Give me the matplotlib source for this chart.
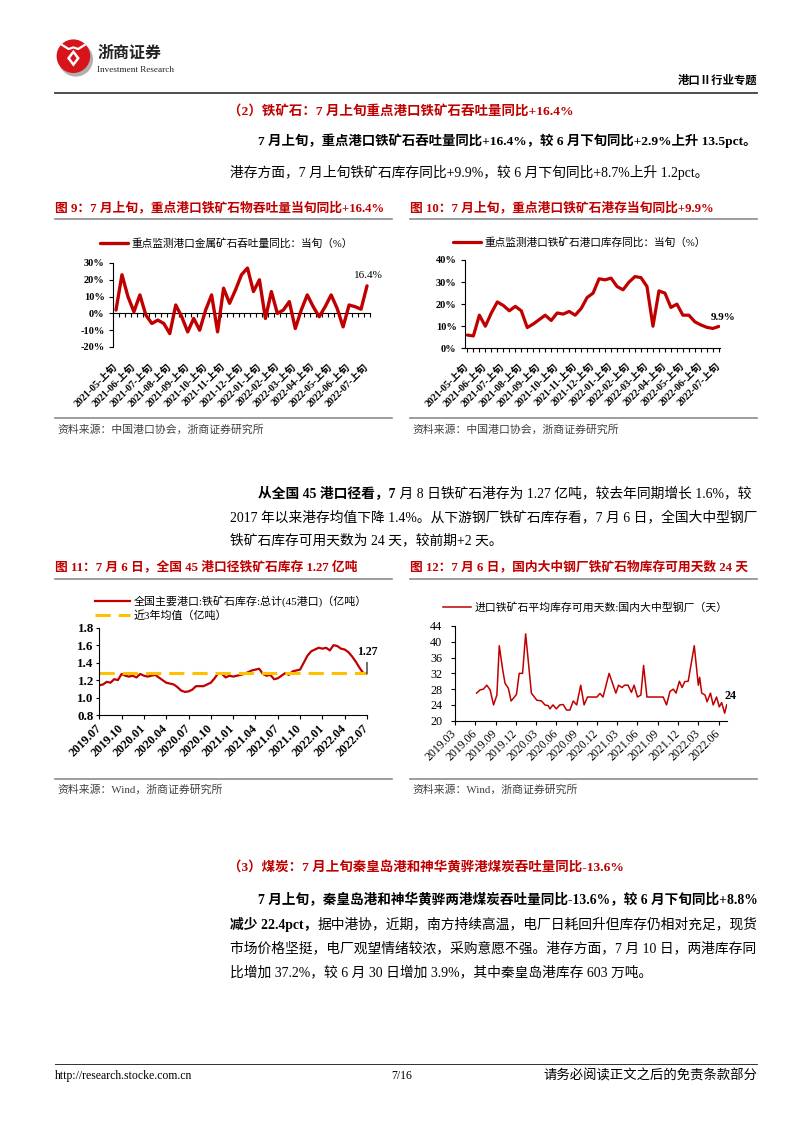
import numpy as np
import matplotlib
matplotlib.use('Agg')
import matplotlib.pyplot as plt
from matplotlib.lines import Line2D
from matplotlib.patches import Circle, Polygon, Ellipse
from matplotlib.ticker import NullFormatter

# ---------------- data ----------------
# Fig 9: iron ore throughput YoY by dekad (%), 2021-05 上旬 .. 2022-07 上旬
tp_yoy = [2, 23, 10, 1, 11, -1, -6, -4, -6, -12,
          5, -2, -11, -3, -10, 2, 11, -11, 15, 6,
          14, 23, 27, 13, 20, -3, 13, 0, 2, 7,
          -9, 2, 11, 4, -2, 4, 11, 3, -8, 5,
          4, 2.5, 16.4]
dekad_labels = ['2021-05-上旬', '2021-06-上旬', '2021-07-上旬', '2021-08-上旬', '2021-09-上旬',
                '2021-10-上旬', '2021-11-上旬', '2021-12-上旬', '2022-01-上旬', '2022-02-上旬',
                '2022-03-上旬', '2022-04-上旬', '2022-05-上旬', '2022-06-上旬', '2022-07-上旬']

# Fig 10: iron ore port inventory YoY by dekad (%)
inv_yoy = [6, 5.6, 15, 10, 16, 21, 19.4, 17, 19, 17,
           9.4, 11, 13, 15, 12.6, 16, 15.5, 16.7, 15, 18,
           23, 25, 31.5, 31, 31.8, 28, 26.5, 30, 32.5, 32,
           28, 10, 26, 25, 18.5, 20, 15, 15, 12, 10.6,
           9.5, 9, 9.9]

# Fig 11: 45-port iron ore inventory (亿吨), semi-monthly from 2019.07 to 2022.07
port45 = [1.14, 1.15, 1.18, 1.17, 1.21, 1.20, 1.27, 1.25, 1.24, 1.25,
          1.23, 1.27, 1.25, 1.24, 1.25, 1.26, 1.23, 1.20, 1.17, 1.16,
          1.15, 1.12, 1.08, 1.065, 1.07, 1.09, 1.13, 1.13, 1.13, 1.15,
          1.17, 1.22, 1.28, 1.27, 1.23, 1.25, 1.24, 1.25, 1.26, 1.27,
          1.29, 1.31, 1.32, 1.33, 1.27, 1.25, 1.26, 1.21, 1.22, 1.25,
          1.28, 1.26, 1.30, 1.31, 1.32, 1.40, 1.48, 1.53, 1.55, 1.57,
          1.56, 1.57, 1.54, 1.60, 1.59, 1.56, 1.55, 1.52, 1.47, 1.41,
          1.34, 1.28, 1.27]
port45_avg3y = 1.28
quarter_labels_11 = ['2019.07', '2019.10', '2020.01', '2020.04', '2020.07', '2020.10', '2021.01',
                     '2021.04', '2021.07', '2021.10', '2022.01', '2022.04', '2022.07']

# Fig 12: usable days of imported iron ore at steel mills (天); month offset from 2019.03
days_month = [3.2, 3.7, 4.2, 4.7, 5.2, 5.7, 6.2, 6.55, 7.05, 7.4,
              7.9, 8.3, 8.7, 9.1, 9.5, 10.0, 10.45, 10.85, 11.3, 12.1,
              12.8, 13.3, 13.8, 14.05, 14.5, 15.0, 15.5, 16.0, 16.5, 17.0,
              17.5, 18.0, 18.6, 19.1, 19.6, 20.5, 21.0, 21.45, 21.9, 22.8,
              23.4, 23.8, 24.2, 24.7, 25.1, 25.6, 26.1, 26.5, 27.0, 27.5,
              27.9, 28.4, 30.8, 31.3, 31.8, 32.3, 32.7, 33.2, 33.6, 34.0,
              34.5, 34.9, 35.4, 36.0, 36.2, 36.5, 37.0, 37.3, 37.8, 38.2,
              38.7, 39.1, 39.45, 39.9, 40.2]
days_value = [27, 27.8, 28, 29, 27.8, 24, 26.5, 39, 33, 29.5,
              28.2, 25, 25.8, 26.7, 32, 32, 42, 35, 27, 25.2,
              25, 24, 23.8, 23, 24, 23, 24, 24.1, 22.7, 22.7,
              25, 24, 29, 24, 26, 26, 26, 26.9, 26, 32,
              29, 27, 29, 28.4, 29, 29, 27.2, 29, 26, 26.5,
              34, 26, 26, 24, 27.4, 28, 27, 30, 28.4, 29.9,
              30, 34, 39, 29, 31, 27, 26.5, 24.8, 27, 24,
              26, 23.5, 24.6, 21.9, 24]
quarter_labels_12 = ['2019.03', '2019.06', '2019.09', '2019.12', '2020.03', '2020.06', '2020.09',
                     '2020.12', '2021.03', '2021.06', '2021.09', '2021.12', '2022.03', '2022.06']

# ---------------- page setup ----------------
W, H = 802, 1133
SERIF = ['Liberation Serif', 'Noto Sans CJK SC']
SANS = ['Noto Sans CJK SC', 'DejaVu Sans']
RED = '#C00000'
GRAY_LINE = '#8c8c8c'

fig = plt.figure(figsize=(W / 100, H / 100), dpi=100)
fig.patch.set_facecolor('white')
R = fig.canvas.get_renderer()


def fx(x):
    return x / W


def fy(y):
    return 1 - y / H


def add_ax(l, t, r, b):
    return fig.add_axes([l / W, 1 - b / H, (r - l) / W, (b - t) / H])


def hline(x0, x1, y, color=GRAY_LINE, lw=1.2):
    fig.add_artist(Line2D([fx(x0), fx(x1)], [fy(y), fy(y)], color=color, lw=lw,
                          transform=fig.transFigure))


def text_line(x, y, segs, size=9.9, color='black'):
    cx = x
    for txt, bold in segs:
        t = fig.text(fx(cx), fy(y), txt, fontsize=size, family=SERIF,
                     fontweight='bold' if bold else 'normal', color=color,
                     ha='left', va='center')
        cx += t.get_window_extent(renderer=R).width


# ---------------- header ----------------
lax = fig.add_axes([fx(55), fy(77), fx(40), 40 / H])
lax.set_xlim(0, 1)
lax.set_ylim(0, 1)
lax.set_aspect('equal')
lax.axis('off')
lax.add_patch(Ellipse((0.52, 0.44), 0.86, 0.86, color='#b0b0b0', lw=0))
lax.add_patch(Circle((0.46, 0.52), 0.42, color='#d7141a', lw=0))
lax.add_patch(Polygon([[0.46, 0.26], [0.62, 0.47], [0.46, 0.68], [0.30, 0.47]], color='white', lw=0))
lax.add_patch(Polygon([[0.46, 0.36], [0.54, 0.47], [0.46, 0.58], [0.38, 0.47]], color='#d7141a', lw=0))
lax.plot([0.18, 0.34, 0.46, 0.58, 0.74], [0.80, 0.70, 0.74, 0.70, 0.80], color='white', lw=1.6)

fig.text(fx(97), fy(53), '浙商证券', fontsize=11.5, family=SANS, fontweight='bold',
         color='#222222', ha='left', va='center')
fig.text(fx(97), fy(70), 'Investment Research', fontsize=6.6, family=SERIF,
         color='#222222', ha='left', va='center')
fig.text(fx(757), fy(80), '港口Ⅱ行业专题', fontsize=8.2, family=SANS, fontweight='bold',
         color='black', ha='right', va='center')
hline(55, 757, 93, color='#404040', lw=1.3)

# ---------------- section 2 text ----------------
text_line(228, 111, [('（2）铁矿石：7 月上旬重点港口铁矿石吞吐量同比+16.4%', True)], size=9.7, color=RED)
text_line(258, 141, [('7 月上旬，重点港口铁矿石吞吐量同比+16.4%，较 6 月下旬同比+2.9%上升 13.5pct。', True)],
          size=9.65)
text_line(230, 172, [('港存方面，7 月上旬铁矿石库存同比+9.9%，较 6 月下旬同比+8.7%上升 1.2pct。', False)])

# chart titles row 1
fig.text(fx(55), fy(208), '图 9：7 月上旬，重点港口铁矿石物吞吐量当旬同比+16.4%', fontsize=9.2,
         family=SERIF, fontweight='bold', color=RED, ha='left', va='center')
fig.text(fx(410), fy(208), '图 10：7 月上旬，重点港口铁矿石港存当旬同比+9.9%', fontsize=9.2,
         family=SERIF, fontweight='bold', color=RED, ha='left', va='center')
hline(55, 392, 219)
hline(410, 757, 219)
hline(55, 392, 418)
hline(410, 757, 418)
fig.text(fx(57), fy(430), '资料来源：中国港口协会，浙商证券研究所', fontsize=7.8, family=SERIF,
         color='#404040', ha='left', va='center')
fig.text(fx(412), fy(430), '资料来源：中国港口协会，浙商证券研究所', fontsize=7.8, family=SERIF,
         color='#404040', ha='left', va='center')


def style_axes(ax, bold=True, size=7.5):
    for s in ['top', 'right']:
        ax.spines[s].set_visible(False)
    for s in ['left', 'bottom']:
        ax.spines[s].set_color('black')
        ax.spines[s].set_linewidth(0.8)
    ax.tick_params(axis='y', direction='out', length=3, width=0.8, pad=3)
    for lab in ax.get_yticklabels():
        lab.set_family(SERIF)
        lab.set_fontweight('bold' if bold else 'normal')
        lab.set_fontsize(size)
    ax.set_facecolor('none')


# ---------------- Fig 9 ----------------
ax9 = add_ax(113, 263, 370, 347)
t9 = np.arange(len(tp_yoy))
ax9.plot(t9, tp_yoy, color=RED, lw=2.4, solid_joinstyle='round', solid_capstyle='round',
         label='重点监测港口金属矿石吞吐量同比：当旬（%）')
ax9.set_xlim(-0.5, len(t9) - 0.5)
ax9.set_ylim(-20, 30)
yt9 = np.arange(-20, 31, 10)
ax9.set_yticks(yt9)
ax9.set_yticklabels([f'{v}%' for v in yt9])
ax9.set_xticks(t9[::3])
ax9.set_xticklabels(dekad_labels, rotation=45, ha='right', va='center', rotation_mode='anchor',
                    family=SERIF, fontweight='bold', fontsize=7.2)
ax9.tick_params(axis='x', length=0, pad=13)
ax9.spines['bottom'].set_visible(False)
style_axes(ax9)
sec9 = ax9.secondary_xaxis(0.4)
sec9.set_xticks(np.arange(-0.5, len(t9), 1))
sec9.xaxis.set_major_formatter(NullFormatter())
sec9.tick_params(axis='x', direction='out', length=3, width=0.8)
sec9.spines['bottom'].set_linewidth(0.8)
ax9.text(42.3, 22.6, '16.4%', fontsize=8, family=SERIF, ha='center', va='center', clip_on=False)
ax9.legend(loc='center left', bbox_to_anchor=(fx(100), fy(243)), bbox_transform=fig.transFigure,
           frameon=False, prop=dict(family=SERIF, size=7.7), handlelength=2.6, handletextpad=0.3,
           borderpad=0, borderaxespad=0)

# ---------------- Fig 10 ----------------
ax10 = add_ax(465, 260, 720, 348.3)
t10 = np.arange(len(inv_yoy))
ax10.plot(t10, inv_yoy, color=RED, lw=2.3, solid_joinstyle='round', solid_capstyle='round',
          label='重点监测港口铁矿石港口库存同比：当旬（%）')
ax10.set_xlim(-0.4, len(t10) - 0.8)
ax10.set_ylim(0, 40)
yt10 = np.arange(0, 41, 10)
ax10.set_yticks(yt10)
ax10.set_yticklabels([f'{v}%' for v in yt10])
ax10.set_xticks(t10, minor=True)
ax10.set_xticks(t10[::3])
ax10.set_xticklabels(dekad_labels, rotation=45, ha='right', va='center', rotation_mode='anchor',
                     family=SERIF, fontweight='bold', fontsize=7.2)
ax10.tick_params(axis='x', which='both', direction='out', length=3, width=0.8, pad=9)
style_axes(ax10)
ax10.text(42.8, 13.8, '9.9%', fontsize=8, family=SERIF, fontweight='bold', ha='center',
          va='center', clip_on=False)
ax10.legend(loc='center left', bbox_to_anchor=(fx(453), fy(242)), bbox_transform=fig.transFigure,
            frameon=False, prop=dict(family=SERIF, size=7.7), handlelength=2.6, handletextpad=0.3,
            borderpad=0, borderaxespad=0)

# ---------------- middle paragraph ----------------
text_line(258, 493, [('从全国 45 港口径看，7', True),
                     (' 月 8 日铁矿石港存为 1.27 亿吨，较去年同期增长 1.6%，较', False)])
text_line(230, 517, [('2017 年以来港存均值下降 1.4%。从下游钢厂铁矿石库存看，7 月 6 日，全国大中型钢厂', False)])
text_line(230, 540, [('铁矿石库存可用天数为 24 天，较前期+2 天。', False)])

fig.text(fx(55), fy(567), '图 11：7 月 6 日，全国 45 港口径铁矿石库存 1.27 亿吨', fontsize=9.2,
         family=SERIF, fontweight='bold', color=RED, ha='left', va='center')
fig.text(fx(410), fy(567), '图 12：7 月 6 日，国内大中钢厂铁矿石物库存可用天数 24 天', fontsize=9.2,
         family=SERIF, fontweight='bold', color=RED, ha='left', va='center')
hline(55, 392, 579)
hline(410, 757, 579)
hline(55, 392, 779)
hline(410, 757, 779)
fig.text(fx(57), fy(790), '资料来源：Wind，浙商证券研究所', fontsize=7.8, family=SERIF,
         color='#404040', ha='left', va='center')
fig.text(fx(412), fy(790), '资料来源：Wind，浙商证券研究所', fontsize=7.8, family=SERIF,
         color='#404040', ha='left', va='center')

# ---------------- Fig 11 ----------------
ax11 = add_ax(99.3, 627.7, 367, 715)
m11 = np.arange(len(port45)) * 0.5
ax11.plot(m11, port45, color=RED, lw=1.6, solid_joinstyle='round',
          label='全国主要港口:铁矿石库存:总计(45港口)（亿吨）')
ax11.plot(m11, [port45_avg3y] * len(m11), color='#FFC000', lw=2.2, dashes=(5, 2.6),
          label='近3年均值（亿吨）')
ax11.set_xlim(0, 36)
ax11.set_ylim(0.8, 1.8)
yt11 = np.arange(0.8, 1.81, 0.2)
ax11.set_yticks(yt11)
ax11.set_yticklabels([f'{v:.1f}' for v in yt11])
ax11.set_xticks(np.arange(0, 37, 3))
ax11.set_xticklabels(quarter_labels_11, rotation=45, ha='right', va='center', rotation_mode='anchor',
                     family=SERIF, fontweight='bold', fontsize=8.8)
ax11.tick_params(axis='x', direction='out', length=3, width=0.8, pad=5)
style_axes(ax11, size=9.4)
ax11.tick_params(axis='y', length=2, pad=2)
ax11.annotate('1.27', xy=(36, 1.27), xytext=(36, 1.52), fontsize=8.6, family=SERIF,
              fontweight='bold', ha='center', va='center', annotation_clip=False,
              arrowprops=dict(arrowstyle='-', lw=0.8, color='black', shrinkA=1, shrinkB=0))
ax11.legend(loc='center left', bbox_to_anchor=(fx(95), fy(608)), bbox_transform=fig.transFigure,
            frameon=False, prop=dict(family=SERIF, size=7.9), handlelength=3.2, handletextpad=0.3,
            borderpad=0, borderaxespad=0, labelspacing=0.35)

# ---------------- Fig 12 ----------------
ax12 = add_ax(455, 626, 726.7, 720.7)
ax12.plot(days_month, days_value, color=RED, lw=1.1, solid_joinstyle='round',
          label='进口铁矿石平均库存可用天数:国内大中型钢厂（天）')
ax12.set_xlim(0, 40.2)
ax12.set_ylim(20, 44)
yt12 = np.arange(20, 45, 4)
ax12.set_yticks(yt12)
ax12.set_yticklabels([f'{v}' for v in yt12])
ax12.set_xticks(np.arange(0, 40, 3))
ax12.set_xticklabels(quarter_labels_12, rotation=45, ha='right', va='center', rotation_mode='anchor',
                     family=SERIF, fontsize=8.5)
ax12.tick_params(axis='x', direction='out', length=3, width=0.8, pad=5)
style_axes(ax12, bold=False, size=8.7)
ax12.tick_params(axis='y', pad=6)
ax12.text(40.7, 26.25, '24', fontsize=8.7, family=SERIF, fontweight='bold', ha='center',
          va='center', clip_on=False)
ax12.legend(loc='center left', bbox_to_anchor=(fx(443), fy(607)), bbox_transform=fig.transFigure,
            frameon=False, prop=dict(family=SERIF, size=7.8), handlelength=2.6, handletextpad=0.3,
            borderpad=0, borderaxespad=0)

# ---------------- section 3 ----------------
text_line(228, 868, [('（3）煤炭：7 月上旬秦皇岛港和神华黄骅港煤炭吞吐量同比-13.6%', True)], size=9.7,
          color=RED)
text_line(258, 900, [('7 月上旬，秦皇岛港和神华黄骅两港煤炭吞吐量同比-13.6%，较 6 月下旬同比+8.8%', True)],
          size=9.8)
text_line(230, 924, [('减少 22.4pct，', True),
                     ('据中港协，近期，南方持续高温，电厂日耗回升但库存仍相对充足，现货', False)])
text_line(230, 948, [('市场价格坚挺，电厂观望情绪较浓，采购意愿不强。港存方面，7 月 10 日，两港库存同', False)])
text_line(230, 972, [('比增加 37.2%，较 6 月 30 日增加 3.9%，其中秦皇岛港库存 603 万吨。', False)])

# ---------------- footer ----------------
hline(55, 757, 1064, color='#303030', lw=0.7)
fig.text(fx(55), fy(1076), 'http://research.stocke.com.cn', fontsize=8.5, family=SERIF,
         ha='left', va='center')
fig.text(fx(402), fy(1076), '7/16', fontsize=8.5, family=SERIF, ha='center', va='center')
fig.text(fx(757), fy(1076), '请务必阅读正文之后的免责条款部分', fontsize=9.6, family=SERIF,
         ha='right', va='center')

fig.savefig('out.png', dpi=100, facecolor='white')
